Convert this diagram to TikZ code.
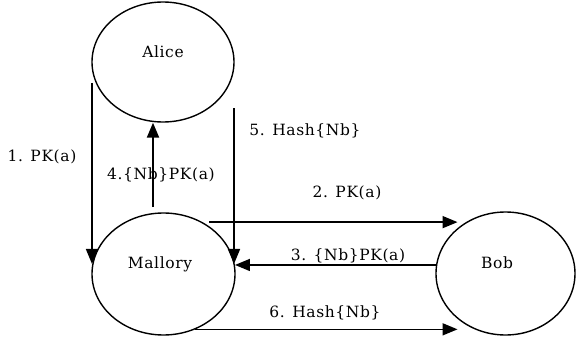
\documentclass[tikz,border=0pt]{standalone}
\usepackage{fontspec}
\setmainfont{DejaVu Serif}[LetterSpace=4]
\usetikzlibrary{arrows.meta,shapes.geometric}

\begin{document}
\begin{tikzpicture}[x=1pt,y=-1pt,
    every node/.style={font=\fontsize{15.5}{18}\selectfont},
    party/.style={draw,ellipse,line width=1.4pt,inner sep=0pt},
    msg/.style={line width=1.6pt,-{Triangle[length=15pt,width=12pt]}}]
    \useasboundingbox (0,0) rectangle (576,337);

    % the three parties
    \node[party,minimum width=142pt,minimum height=120pt] (alice)   at (163,62)      {};
    \node[party,minimum width=143pt,minimum height=122pt] (mallory) at (163.5,274)   {};
    \node[party,minimum width=139pt,minimum height=123pt] (bob)     at (505.5,273.5) {};
    \node[anchor=base] (alicetxt)   at (163,58)  {Alice};
    \node[anchor=base] (mallorytxt) at (160,268) {Mallory};
    \node[anchor=base] (bobtxt)     at (497,268) {Bob};

    \coordinate (s1) at (92,83);
    \coordinate (s4) at (153,207);
    \coordinate (s5) at (234,108);

    \draw[msg] (s1) -- (s1 |- mallory.172);
    \draw[msg,line width=2.2pt] (s4) -- (s4 |- alice.south);
    \draw[msg] (s5) -- (s5 |- mallory.8);
    \draw[msg,shorten <=6.5pt,shorten >=8pt] (mallory.53) -- (mallory.53 -| bob.128);
    \draw[msg] (bob.173) -- (bob.173 -| mallory.7);
    \draw[msg,shorten >=8pt] (mallory.-60) -- (mallory.-60 -| bob.-128);

    \node (m1) at (42,157)  {1. PK(a)};
    \node (m2) at (347,193) {2. PK(a)};
    \node (m3) at (348,256) {3. \{Nb\}PK(a)};
    \node (m4) at (161,175) {4.\{Nb\}PK(a)};
    \node (m5) at (305,131) {5. Hash\{Nb\}};
    \node (m6) at (325,313) {6. Hash\{Nb\}};
\end{tikzpicture}
\end{document}
